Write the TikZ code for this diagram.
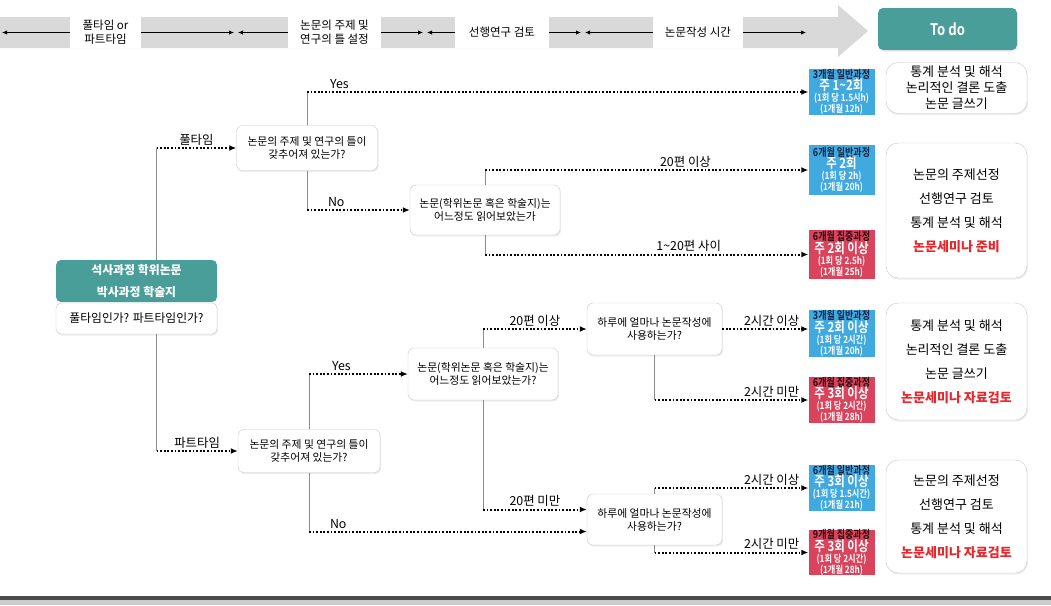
\documentclass[tikz,border=0pt]{standalone}
\usepackage{fontspec}
\setmainfont{Noto Sans CJK KR}
\newfontfamily\narrowkr{Noto Sans CJK KR Bold}[FakeStretch=0.82]
\usetikzlibrary{calc,arrows.meta,shadows}

\definecolor{tealbox}{RGB}{74,158,153}
\definecolor{skybox}{RGB}{64,169,223}
\definecolor{rosebox}{RGB}{217,67,92}
\definecolor{navytext}{RGB}{24,36,70}
\definecolor{darktext}{RGB}{40,10,16}
\definecolor{redtext}{RGB}{232,38,43}
\definecolor{bandgray}{RGB}{217,217,217}

\begin{document}
\begin{tikzpicture}[x=1pt, y=-1pt,
            ask/.style={
              draw=black!22, fill=white, rounded corners=6pt,
              align=center, inner sep=1pt,
              font=\fontsize{10.8}{13}\selectfont,
              drop shadow={opacity=0.15, shadow xshift=1pt, shadow yshift=-1.5pt}
            },
            todo/.style={
              draw=black!22, fill=white, rounded corners=12pt,
              align=center, inner sep=1pt, minimum width=141pt,
              font=\fontsize{13}{24}\selectfont,
              drop shadow={opacity=0.15, shadow xshift=1pt, shadow yshift=-1.5pt}
            },
            course/.style={
              fill=#1, text=white, align=center, inner sep=0pt,
              minimum width=66pt, font=\narrowkr
            },
            stage/.style={
              fill=white, minimum height=31pt, inner sep=1pt,
              align=center, font=\fontsize{11.5}{14}\selectfont
            },
            stagearrow/.style={-{Latex[length=5pt,width=4.5pt]}, line width=0.9pt},
            vline/.style={draw=black!45, line width=0.7pt},
            dotarrow/.style={-{Latex[length=7pt,width=6pt]}, line width=2pt,
              dash pattern=on 1.8pt off 1.8pt},
            lbl/.style={font=\fontsize{12.4}{14}\selectfont, inner sep=2pt}
        ]
\useasboundingbox (0,0) rectangle (1051,605);

% time line on top
\fill[bandgray] (0,17) -- (838,17) -- (838,5) -- (868,31) -- (838,57) -- (838,48) -- (0,48) -- cycle;
\foreach \n/\lo/\hi/\bl/\br/\t in {p1/70/141/0/236/{풀타임 or\\파트타임},
    p2/288/381/236/425/{논문의 주제 및\\연구의 틀 설정},
    p3/455/549/425/583/{선행연구 검토},
    p4/653/743/583/808/{논문작성 시간}}{
    \node[stage, minimum width={(\hi-\lo)*1pt}] (\n) at ({(\lo+\hi)/2}, 32.5) {\t};
    \draw[stagearrow] (\n.west) -- (\bl+2, 32.5);
    \draw[stagearrow] (\n.east) -- (\br-2, 32.5);
}
\node[fill=tealbox, rounded corners=5pt, minimum width=139pt, minimum height=42pt,
      text=white, font=\narrowkr\fontsize{16}{18}\selectfont,
      drop shadow={opacity=0.15, shadow xshift=1pt, shadow yshift=-1.5pt}] (todo) at (947.5,29) {To do};

% start
\node[fill=tealbox, rounded corners=5pt, minimum width=161pt, minimum height=42pt,
      align=center, text=white, font=\fontsize{11.9}{22}\selectfont\bfseries] (s1) at (136.5,281)
      {석사과정 학위논문\\박사과정 학술지};
\node[ask, rounded corners=5pt, minimum width=161pt, minimum height=31pt,
      font=\fontsize{11.8}{14}\selectfont] (s2) at (136.5,318.5) {풀타임인가? 파트타임인가?};

% questions
\node[ask, minimum width=141pt, minimum height=45pt] (a1) at (307,148) {논문의 주제 및 연구의 틀이\\갖추어져 있는가?};
\node[ask, minimum width=142pt, minimum height=43pt] (a2) at (309,451) {논문의 주제 및 연구의 틀이\\갖추어져 있는가?};
\node[ask, minimum width=150pt, minimum height=50pt] (b1) at (485,210) {논문(학위논문 혹은 학술지)는\\어느정도 읽어보았는가};
\node[ask, minimum width=150pt, minimum height=52pt] (b2) at (483,374) {논문(학위논문 혹은 학술지)는\\어느정도 읽어보았는가?};
\node[ask, minimum width=135pt, minimum height=52pt] (e1) at (654.5,329) {하루에 얼마나 논문작성에\\사용하는가?};
\node[ask, minimum width=135pt, minimum height=51pt] (e2) at (654.5,519.5) {하루에 얼마나 논문작성에\\사용하는가?};

% courses
\foreach \n/\y/\h/\c/\hc/\t/\m/\a/\b in {
    c1/92/46/skybox/navytext/3개월 일반과정/주 1\textasciitilde2회/(1회 당 1.5시h)/(1개월 12h),
    c2/170/50/skybox/navytext/6개월 일반과정/주 2회/(1회 당 2h)/(1개월 20h),
    c3/254.5/49/rosebox/darktext/6개월 집중과정/주 2회 이상/(1회 당 2.5h)/(1개월 25h),
    c4/333.5/47/skybox/navytext/3개월 일반과정/주 2회 이상/(1회 당 2시간)/(1개월 20h),
    c5/400/46/rosebox/darktext/6개월 집중과정/주 3회 이상/(1회 당 2시간)/(1개월 28h),
    c6/488/46/skybox/navytext/6개월 일반과정/주 3회 이상/(1회 당 1.5시간)/(1개월 21h),
    c7/552.5/45/rosebox/darktext/9개월 집중과정/주 3회 이상/(1회 당 2시간)/(1개월 28h)}
    \node[course=\c, minimum height=\h pt] (\n) at (841.5,\y)
      {{\color{\hc}\fontsize{11}{12}\selectfont \t}\\[-1pt]
       {\fontsize{14}{13}\selectfont \m}\\[-1pt]
       {\fontsize{10}{10}\selectfont \a}\\[-1pt]
       {\fontsize{10}{9}\selectfont \b}};

% to do lists
\node[todo, minimum height=51pt, font=\fontsize{13}{16}\selectfont] (d1) at (956.5,88)
    {통계 분석 및 해석\\논리적인 결론 도출\\논문 글쓰기};
\node[todo, minimum height=135pt] (d2) at (956.5,210.5)
    {논문의 주제선정\\선행연구 검토\\통계 분석 및 해석\\{\color{redtext}\bfseries 논문세미나 준비}};
\node[todo, minimum height=117pt] (d3) at (956.5,361.5)
    {통계 분석 및 해석\\논리적인 결론 도출\\논문 글쓰기\\{\color{redtext}\bfseries 논문세미나 자료검토}};
\node[todo, minimum height=113pt] (d4) at (956.5,516.5)
    {논문의 주제선정\\선행연구 검토\\통계 분석 및 해석\\{\color{redtext}\bfseries 논문세미나 자료검토}};

% full time / part time
\coordinate (ls) at ([xshift=20pt]s1.north);
\coordinate (lb) at ([xshift=20pt]s2.south);
\draw[vline] (ls) -- (ls |- a1.west);
\draw[dotarrow] (ls |- a1.west) -- (a1.west) node[lbl, midway, above] {풀타임};
\draw[vline] (lb) -- (lb |- a2.west);
\draw[dotarrow] (lb |- a2.west) -- (a2.west) node[lbl, midway, above] {파트타임};

% full time
\draw[vline] (a1.north) -- (a1.north |- c1.west);
\draw[dotarrow] (a1.north |- c1.west) -- (c1.west) node[lbl, pos=0, above right, xshift=20pt] {Yes};
\draw[vline] (a1.south) -- (a1.south |- b1.west);
\draw[dotarrow] (a1.south |- b1.west) -- (b1.west) node[lbl, pos=0, above right, xshift=18pt] {No};
\draw[vline] (b1.north) -- (b1.north |- c2.west);
\draw[dotarrow] (b1.north |- c2.west) -- (c2.west) node[lbl, pos=0.62, above] {20편 이상};
\draw[vline] (b1.south) -- (b1.south |- c3.west);
\draw[dotarrow] (b1.south |- c3.west) -- (c3.west) node[lbl, pos=0.63, above] {1\textasciitilde20편 사이};

% part time
\coordinate (e2a) at ([yshift=10pt]e2.west);
\coordinate (e2b) at ([yshift=-12pt]e2.west);
\draw[vline] (a2.north) -- (a2.north |- b2.west);
\draw[dotarrow] (a2.north |- b2.west) -- (b2.west) node[lbl, pos=0, above right, xshift=20pt] {Yes};
\draw[vline] (a2.south) -- (a2.south |- e2b);
\draw[dotarrow] (a2.south |- e2b) -- (e2b) node[lbl, pos=0, above right, xshift=18pt] {No};
\draw[vline] (b2.north) -- (b2.north |- e1.west);
\draw[dotarrow] (b2.north |- e1.west) -- (e1.west) node[lbl, midway, above] {20편 이상};
\draw[vline] (b2.south) -- (b2.south |- e2a);
\draw[dotarrow] (b2.south |- e2a) -- (e2a) node[lbl, midway, above] {20편 미만};

% hours per day
\draw[dotarrow] (e1.east) -- (e1.east -| c4.west) node[lbl, pos=1, above left, xshift=-6pt] {2시간 이상};
\draw[vline] (e1.south) -- (e1.south |- c5.west);
\draw[dotarrow] (e1.south |- c5.west) -- (c5.west) node[lbl, pos=1, above left, xshift=-6pt] {2시간 미만};
\draw[vline] (e2.north) -- (e2.north |- c6.west);
\draw[dotarrow] (e2.north |- c6.west) -- (c6.west) node[lbl, pos=1, above left, xshift=-6pt] {2시간 이상};
\draw[vline] (e2.south) -- (e2.south |- c7.west);
\draw[dotarrow] (e2.south |- c7.west) -- (c7.west) node[lbl, pos=1, above left, xshift=-6pt] {2시간 미만};

% bottom edge
\fill[black!70] (0,596) rectangle (1051,600);
\fill[black!20] (0,600) rectangle (1051,605);

\end{tikzpicture}
\end{document}
